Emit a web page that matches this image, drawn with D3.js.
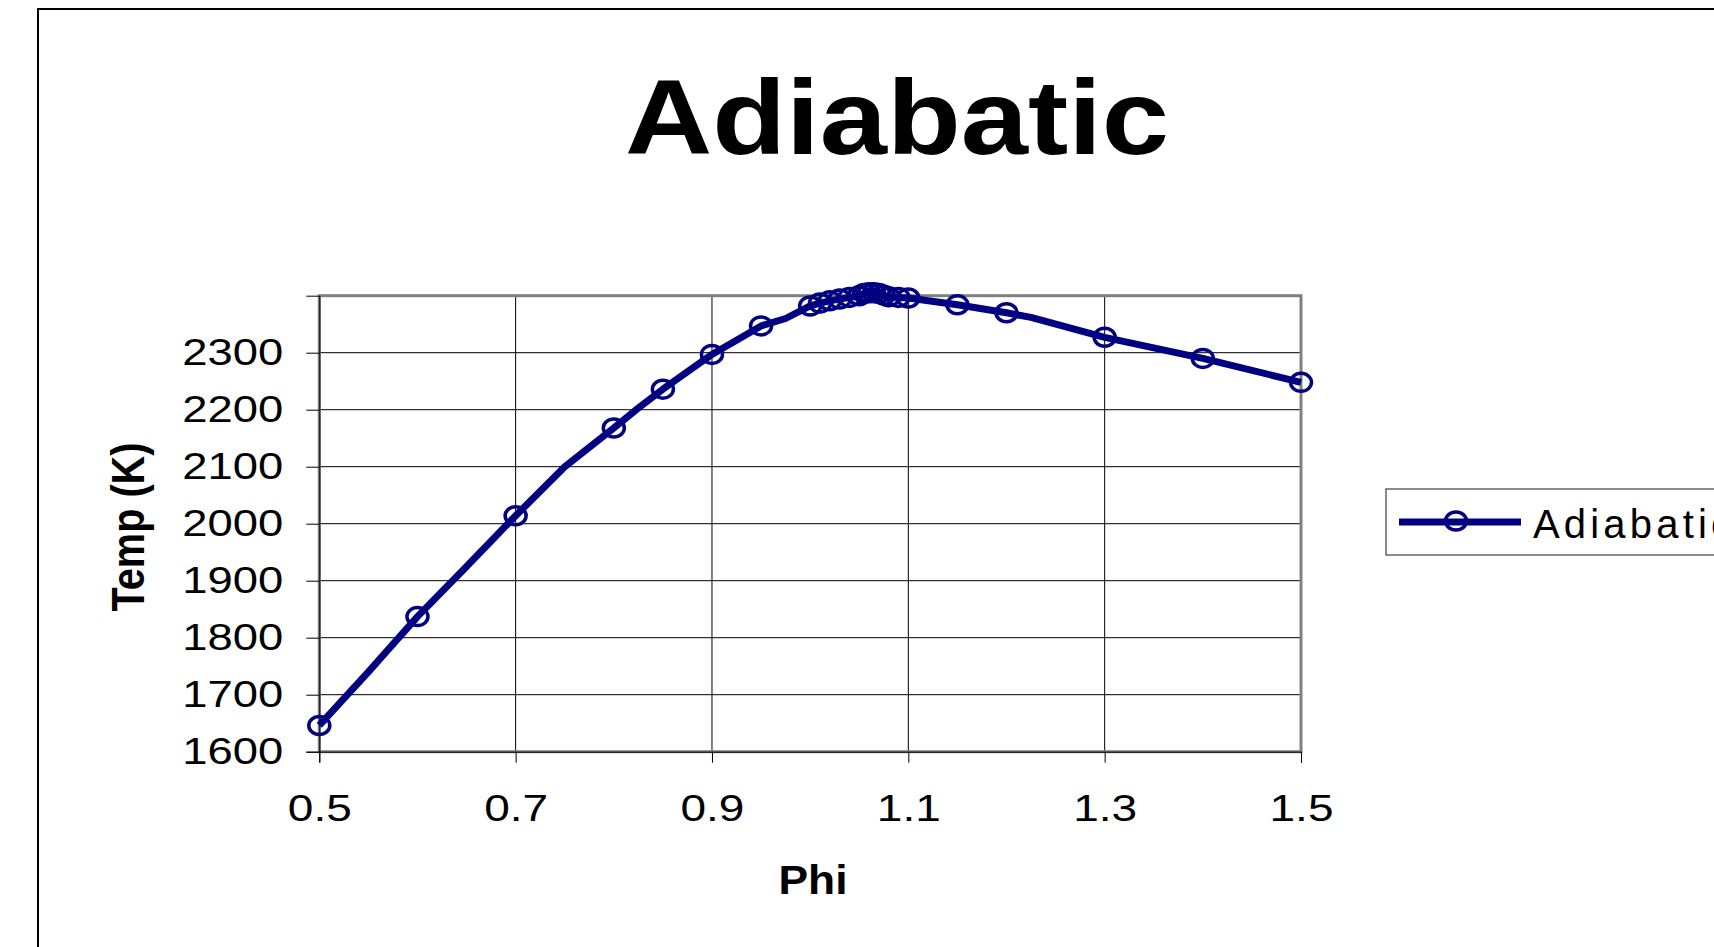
<!DOCTYPE html>
<html>
<head>
<meta charset="utf-8">
<title>Adiabatic</title>
<style>
  body { margin: 0; background: #fff; overflow: hidden; }
  text { font-family: "Liberation Sans", Arial, sans-serif; fill: #000; }
</style>
</head>
<body>
<div class="chart"></div>
<script src="https://cdn.jsdelivr.net/npm/d3@7/dist/d3.min.js" charset="utf-8"></script>
<script type="text/javascript">
  // data
  var phiValues  = [0.5, 0.55, 0.6, 0.65, 0.7, 0.75, 0.8, 0.825, 0.85, 0.9, 0.95, 0.975,
                    1.0, 1.01, 1.02, 1.03, 1.04, 1.05, 1.055, 1.06, 1.065, 1.07, 1.075,
                    1.08, 1.09, 1.1, 1.15, 1.2, 1.225, 1.3, 1.4, 1.5];
  var tempValues = [1646, 1740, 1837, 1925, 2014, 2100, 2168, 2203, 2236, 2297, 2347, 2360,
                    2382, 2387, 2391, 2394, 2397, 2400, 2404, 2405, 2405, 2404, 2401,
                    2398, 2397, 2396, 2384, 2370, 2362, 2327, 2290, 2248];
  var noMarkerPhi = [0.55, 0.65, 0.75, 0.825, 0.975, 1.225];
  var xTicks = [0.5, 0.7, 0.9, 1.1, 1.3, 1.5];
  var yTicks = [1600, 1700, 1800, 1900, 2000, 2100, 2200, 2300];
  var yGrid  = [1700, 1800, 1900, 2000, 2100, 2200, 2300];
  var seriesName = "Adiabatic";

  var width  = 1714;
  var height = 947;
  var plotL = 319.3, plotR = 1301, plotT = 295.7, plotB = 751.7;
  var navy = "#000080";

  var svg = d3.select(".chart").append("svg")
    .attr("width", width).attr("height", height);

  // outer chart frame (runs off the page right and bottom)
  svg.append("rect")
    .attr("x", 38).attr("y", 9)
    .attr("width", 1800).attr("height", 1100)
    .attr("fill", "#fff").attr("stroke", "#000").attr("stroke-width", 2);

  var x = d3.scaleLinear().domain([0.5, 1.5]).range([plotL, plotR]);
  var y = d3.scaleLinear().domain([1600, 2400]).range([plotB, plotT]);

  // gridlines
  svg.append("g").selectAll("line").data(yGrid).enter().append("line")
    .attr("x1", plotL).attr("x2", plotR)
    .attr("y1", function(d){ return y(d); }).attr("y2", function(d){ return y(d); })
    .attr("stroke", "#000").attr("stroke-width", 1);
  svg.append("g").selectAll("line").data(xTicks.slice(1, -1)).enter().append("line")
    .attr("y1", plotT).attr("y2", plotB)
    .attr("x1", function(d){ return x(d); }).attr("x2", function(d){ return x(d); })
    .attr("stroke", "#000").attr("stroke-width", 1);

  // plot frame
  svg.append("rect")
    .attr("x", plotL).attr("y", plotT)
    .attr("width", plotR - plotL).attr("height", plotB - plotT)
    .attr("fill", "none").attr("stroke", "#808080").attr("stroke-width", 3);

  // axes
  var yAxis = svg.append("g")
    .attr("transform", "translate(" + plotL + ",0)")
    .call(d3.axisLeft(y).tickValues(yTicks).tickFormat(d3.format("d"))
      .tickSize(13).tickPadding(23));
  var xAxis = svg.append("g")
    .attr("transform", "translate(0," + plotB + ")")
    .call(d3.axisBottom(x).tickValues(xTicks).tickFormat(d3.format(".1f"))
      .tickSize(11).tickPadding(32));
  [yAxis, xAxis].forEach(function(g){
    g.select(".domain").attr("stroke", "#000").attr("stroke-width", 1);
    g.selectAll(".tick line").attr("stroke", "#000");
    g.selectAll(".tick text")
      .attr("font-size", 37)
      .attr("font-family", "Liberation Sans, Arial, sans-serif")
      .attr("fill", "#000");
  });
  yAxis.selectAll(".tick text").attr("textLength", 101).attr("lengthAdjust", "spacingAndGlyphs");
  xAxis.selectAll(".tick text").attr("textLength", 64).attr("lengthAdjust", "spacingAndGlyphs");

  // line
  var pts = phiValues.map(function(p, i){ return [p, tempValues[i]]; });
  var line = d3.line()
    .x(function(d){ return x(d[0]); })
    .y(function(d){ return y(d[1]); });
  svg.append("path").datum(pts)
    .attr("d", line)
    .attr("fill", "none").attr("stroke", navy)
    .attr("stroke-width", 7).attr("stroke-linejoin", "round");

  // markers
  svg.append("g").selectAll("ellipse")
    .data(pts.filter(function(d){ return noMarkerPhi.indexOf(d[0]) < 0; }))
    .enter().append("ellipse")
    .attr("cx", function(d){ return x(d[0]); })
    .attr("cy", function(d){ return y(d[1]); })
    .attr("rx", 10.5).attr("ry", 9)
    .attr("fill", "none").attr("stroke", navy).attr("stroke-width", 3.5);

  // titles
  svg.append("text")
    .attr("x", 897).attr("y", 154)
    .attr("text-anchor", "middle")
    .attr("font-size", 105).attr("font-weight", "bold")
    .attr("textLength", 544).attr("lengthAdjust", "spacingAndGlyphs")
    .text("Adiabatic");
  svg.append("text")
    .attr("x", 813).attr("y", 894)
    .attr("text-anchor", "middle")
    .attr("font-size", 40).attr("font-weight", "bold")
    .attr("textLength", 69).attr("lengthAdjust", "spacingAndGlyphs")
    .text("Phi");
  svg.append("text")
    .attr("transform", "translate(144,527) rotate(-90)")
    .attr("text-anchor", "middle")
    .attr("font-size", 47).attr("font-weight", "bold")
    .attr("textLength", 169).attr("lengthAdjust", "spacingAndGlyphs")
    .text("Temp (K)");

  // legend
  var legend = svg.append("g");
  legend.append("rect")
    .attr("x", 1386).attr("y", 489)
    .attr("width", 400).attr("height", 66)
    .attr("fill", "#fff").attr("stroke", "#404040").attr("stroke-width", 1.2);
  legend.append("line")
    .attr("x1", 1399).attr("x2", 1521).attr("y1", 522).attr("y2", 522)
    .attr("stroke", navy).attr("stroke-width", 7);
  legend.append("ellipse")
    .attr("cx", 1456).attr("cy", 521).attr("rx", 10.5).attr("ry", 9)
    .attr("fill", "none").attr("stroke", navy).attr("stroke-width", 3.5);
  legend.append("text")
    .attr("x", 1533).attr("y", 538)
    .attr("font-size", 40)
    .attr("textLength", 198).attr("lengthAdjust", "spacing")
    .text(seriesName);
</script>
</body>
</html>
